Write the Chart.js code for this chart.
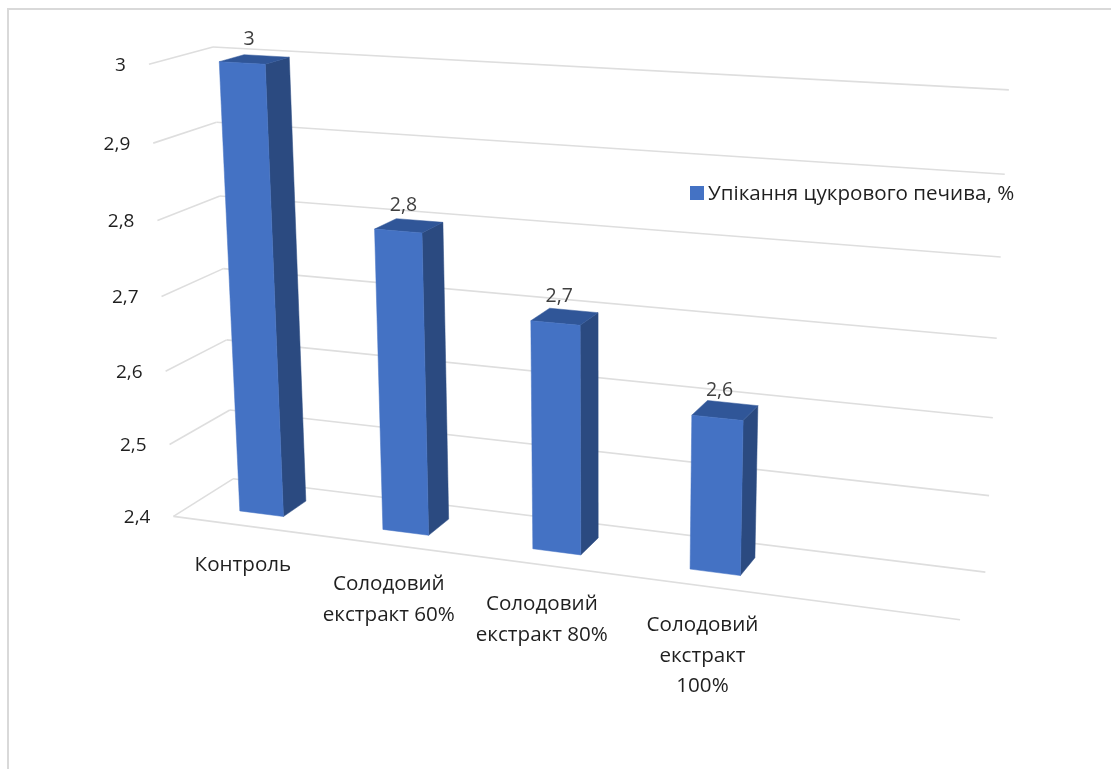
<!DOCTYPE html>
<html lang="uk">
<head>
<meta charset="utf-8">
<title>Упікання цукрового печива</title>
<script src="https://cdn.jsdelivr.net/npm/chart.js@4"></script>
<style>
  html, body { margin: 0; padding: 0; background: #fff; }
  canvas { display: block; }
</style>
</head>
<body>
<canvas id="chart" width="1111" height="769"></canvas>
<script>
// Chart content
const categories = [
  ['Контроль'],
  ['Солодовий', 'екстракт 60%'],
  ['Солодовий', 'екстракт 80%'],
  ['Солодовий', 'екстракт', '100%'],
  ''
];
const seriesName = 'Упікання цукрового печива, %';
const seriesValues = [3, 2.8, 2.7, 2.6, null];
const axisMin = 2.4;
const axisMax = 3;
const axisStep = 0.1;

// Appearance
const FONT = '"Open Sans", sans-serif';
const TEXT_COLOR = '#1f1f1f';
const VALUE_COLOR = '#404040';
const GRID_COLOR = '#dedede';
const FRAME_COLOR = '#d9d9d9';
const FRONT_COLOR = '#4472c4';
const SIDE_COLOR = '#2b4a80';
const TOP_COLOR = '#305698';
const BAR_DEPTH = [0.3, 0.7];

// Camera: cube corners (across, up, into the scene) and where they land on the canvas
const CAMERA_FIT = [
  [[0, 0, 0], [174, 517]],
  [[1, 0, 0], [960, 620]],
  [[0, 1, 0], [149, 65]],
  [[0, 0, 1], [233, 479]],
  [[0, 1, 1], [213, 47]],
  [[1, 1, 1], [1009, 90]],
  [[1, 0, 1], [985, 572]],
  [[1, 0.5, 1], [997, 338]],
  [[0, 0.5, 0], [161, 295]]
];

// Gaussian elimination with pivoting
function solve(A, b) {
  const n = b.length;
  const M = A.map((row, i) => [...row, b[i]]);
  for (let i = 0; i < n; i++) {
    let p = i;
    for (let r = i + 1; r < n; r++) if (Math.abs(M[r][i]) > Math.abs(M[p][i])) p = r;
    [M[i], M[p]] = [M[p], M[i]];
    for (let r = 0; r < n; r++) {
      if (r === i) continue;
      const f = M[r][i] / M[i][i];
      for (let c = i; c <= n; c++) M[r][c] -= f * M[i][c];
    }
  }
  return M.map((row, i) => row[n] / row[i]);
}

// Least-squares projective camera from the fit points (11 unknowns, last entry fixed at 1)
function buildProjector(fit) {
  const rows = [], rhs = [];
  fit.forEach(([[u, v, d], [x, y]]) => {
    rows.push([u, v, d, 1, 0, 0, 0, 0, -x * u, -x * v, -x * d]); rhs.push(x);
    rows.push([0, 0, 0, 0, u, v, d, 1, -y * u, -y * v, -y * d]); rhs.push(y);
  });
  const n = 11;
  const N = Array.from({ length: n }, (_, i) =>
    Array.from({ length: n }, (_, j) => rows.reduce((s, r) => s + r[i] * r[j], 0)));
  const t = Array.from({ length: n }, (_, i) => rows.reduce((s, r, k) => s + r[i] * rhs[k], 0));
  const p = solve(N, t);
  return (u, v, d) => {
    const w = p[8] * u + p[9] * v + p[10] * d + 1;
    return {
      x: (p[0] * u + p[1] * v + p[2] * d + p[3]) / w,
      y: (p[4] * u + p[5] * v + p[6] * d + p[7]) / w
    };
  };
}

const project = buildProjector(CAMERA_FIT);

// Cube coordinates from the pixel positions of the chart's own scales
const cubeU = (chart, px) => (px - chart.chartArea.left) / chart.chartArea.width;
const cubeV = (chart, py) => (chart.chartArea.bottom - py) / chart.chartArea.height;

function face(ctx, pts, color) {
  ctx.beginPath();
  pts.forEach((p, i) => (i ? ctx.lineTo(p.x, p.y) : ctx.moveTo(p.x, p.y)));
  ctx.closePath();
  ctx.fillStyle = color;
  ctx.strokeStyle = color;
  ctx.lineWidth = 0.5;
  ctx.fill();
  ctx.stroke();
}

function segment(ctx, a, b) {
  ctx.beginPath();
  ctx.moveTo(a.x, a.y);
  ctx.lineTo(b.x, b.y);
  ctx.stroke();
}

function setText(ctx, size, color, align) {
  ctx.font = size + 'px ' + FONT;
  ctx.fillStyle = color;
  ctx.textAlign = align;
  ctx.textBaseline = 'middle';
}

const perspectiveBars = {
  id: 'perspectiveBars',
  beforeDraw(chart) {
    // Chart frame, open towards the right and the bottom
    const ctx = chart.ctx;
    ctx.save();
    ctx.strokeStyle = FRAME_COLOR;
    ctx.lineWidth = 2;
    ctx.beginPath();
    ctx.moveTo(8, chart.height);
    ctx.lineTo(8, 9);
    ctx.lineTo(chart.width, 9);
    ctx.stroke();
    ctx.restore();
  },
  beforeDatasetsDraw(chart) {
    const ctx = chart.ctx, yScale = chart.scales.y, xScale = chart.scales.x;
    ctx.save();

    // Side wall and back wall: one bent line per value tick, with its label
    yScale.ticks.forEach(tick => {
      const v = cubeV(chart, yScale.getPixelForValue(tick.value));
      const front = project(0, v, 0), corner = project(0, v, 1);
      ctx.strokeStyle = GRID_COLOR;
      ctx.lineWidth = 1.6;
      segment(ctx, front, corner);
      segment(ctx, corner, project(1, v, 1));
      setText(ctx, 19, TEXT_COLOR, 'right');
      ctx.fillText(tick.label, front.x - 23, front.y + 1);
    });
    segment(ctx, project(0, 0, 0), project(1, 0, 0));

    // Category names below the front edge of the floor
    setText(ctx, 20.6, TEXT_COLOR, 'center');
    xScale.ticks.forEach((tick, i) => {
      const p = project(cubeU(chart, xScale.getPixelForTick(i)), 0, 0);
      [].concat(tick.label || []).forEach((line, j) => ctx.fillText(line, p.x - 1, p.y + 39.5 + j * 30.5));
    });

    // Bars as extruded boxes, each with its value above the top face
    chart.getDatasetMeta(0).data.forEach((bar, i) => {
      if (seriesValues[i] == null) return;
      const u0 = cubeU(chart, bar.x - bar.width / 2);
      const u1 = cubeU(chart, bar.x + bar.width / 2);
      const v0 = cubeV(chart, bar.base);
      const v1 = cubeV(chart, bar.y);
      const [d0, d1] = BAR_DEPTH;
      face(ctx, [project(u1, v0, d0), project(u1, v0, d1), project(u1, v1, d1), project(u1, v1, d0)], SIDE_COLOR);
      face(ctx, [project(u0, v1, d0), project(u0, v1, d1), project(u1, v1, d1), project(u1, v1, d0)], TOP_COLOR);
      face(ctx, [project(u0, v0, d0), project(u1, v0, d0), project(u1, v1, d0), project(u0, v1, d0)], FRONT_COLOR);

      const c = project((u0 + u1) / 2, v1, (d0 + d1) / 2);
      setText(ctx, 19.5, VALUE_COLOR, 'center');
      ctx.fillText(String(seriesValues[i]).replace('.', ','), c.x - 5.5, c.y - 20);
    });

    // Legend entry floating beside the bars
    const ds = chart.data.datasets[0];
    ctx.fillStyle = ds.backgroundColor;
    ctx.fillRect(690, 186, 14, 14);
    setText(ctx, 20.6, TEXT_COLOR, 'left');
    ctx.fillText(ds.label, 708, 194);

    ctx.restore();
    return false;
  }
};

new Chart(document.getElementById('chart'), {
  type: 'bar',
  data: {
    labels: categories,
    datasets: [{
      label: seriesName,
      data: seriesValues,
      base: axisMin,
      backgroundColor: FRONT_COLOR,
      barPercentage: 0.31,
      categoryPercentage: 1
    }]
  },
  options: {
    responsive: false,
    animation: false,
    layout: { padding: 0 },
    scales: {
      x: { display: false },
      y: {
        display: false,
        min: axisMin,
        max: axisMax,
        ticks: {
          stepSize: axisStep,
          callback: v => String(+v.toFixed(1)).replace('.', ',')
        }
      }
    },
    plugins: {
      tooltip: { enabled: false },
      legend: { display: false }
    }
  },
  plugins: [perspectiveBars]
});
</script>
</body>
</html>
